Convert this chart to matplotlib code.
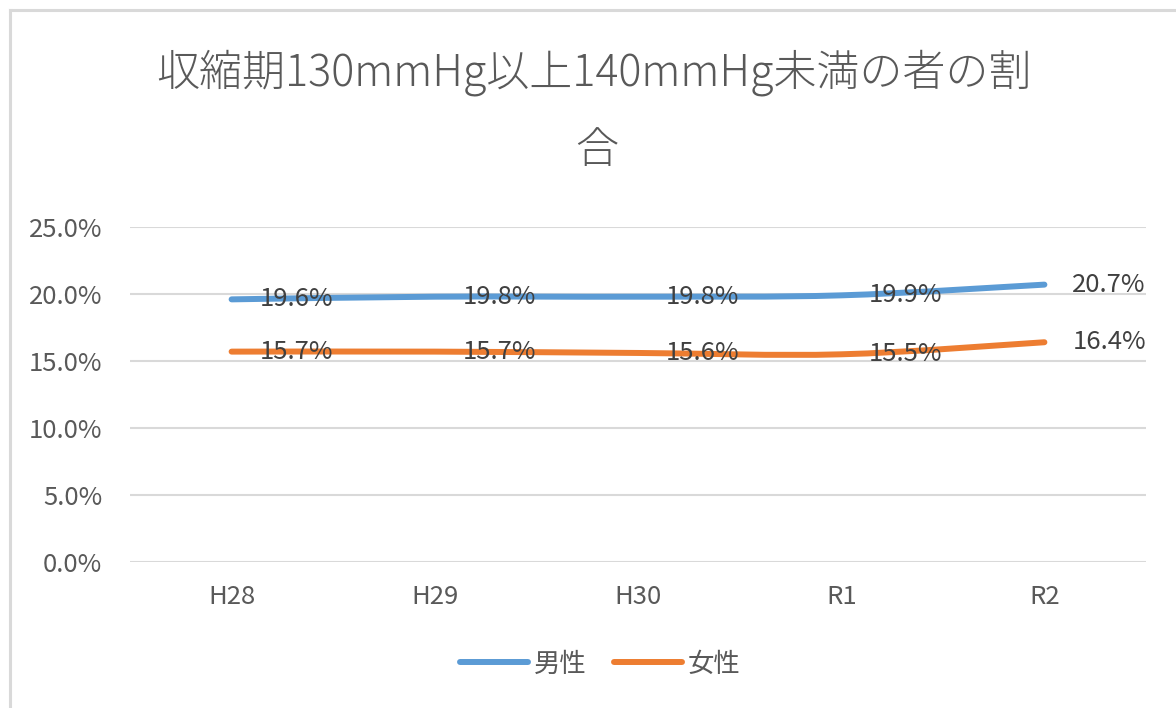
import matplotlib
matplotlib.use("Agg")
import matplotlib.pyplot as plt
import numpy as np
from matplotlib.path import Path
from matplotlib.patches import PathPatch
from matplotlib.lines import Line2D

plt.rcParams['font.family'] = ['Noto Sans CJK JP', 'DejaVu Sans']

categories = ['H28', 'H29', 'H30', 'R1', 'R2']
male = [19.6, 19.8, 19.8, 19.9, 20.7]
female = [15.7, 15.7, 15.6, 15.5, 16.4]
series_names = ['男性', '女性']
yticks = [0, 5, 10, 15, 20, 25]
title_line1 = '収縮期130mmHg以上140mmHg未満の者の割'
title_line2 = '合'

BLUE = '#5B9BD5'
ORANGE = '#ED7D31'
GRID = '#D9D9D9'
TXT = '#595959'
LBL = '#404040'

W, H = 1176, 708
fig = plt.figure(figsize=(W/100, H/100), dpi=100)
ax = fig.add_axes([130/W, 1-562/H, (1146-130)/W, (562-227)/H])

x = np.arange(len(categories))
ax.set_xlim(-0.5, len(categories)-0.5)
ax.set_ylim(0, 25)
ax.set_yticks(yticks)
ax.set_yticklabels([f'{v:.1f}%' for v in yticks])
ax.set_xticks(x)
ax.set_xticklabels(categories)
ax.tick_params(axis='both', length=0, colors=TXT, labelsize=18.5)
ax.tick_params(axis='y', pad=20)
ax.tick_params(axis='x', pad=16)
for s in ax.spines.values():
    s.set_visible(False)
ax.grid(axis='y', color=GRID, linewidth=1.5)
ax.set_axisbelow(True)


def smooth_path(xs, ys):
    pts = np.column_stack([xs, ys]).astype(float)
    n = len(pts)
    verts = [pts[0]]
    codes = [Path.MOVETO]
    for i in range(n-1):
        p0 = pts[i-1] if i > 0 else pts[i]
        p1 = pts[i]
        p2 = pts[i+1]
        p3 = pts[i+2] if i+2 < n else pts[i+1]
        c1 = p1 + (p2 - p0) / 6.0
        c2 = p2 - (p3 - p1) / 6.0
        verts += [c1, c2, p2]
        codes += [Path.CURVE4]*3
    return Path(verts, codes)

for vals, col in [(male, BLUE), (female, ORANGE)]:
    patch = PathPatch(smooth_path(x, vals), facecolor='none', edgecolor=col,
                      linewidth=4.3, capstyle='round', joinstyle='round', zorder=3)
    ax.add_patch(patch)
    for xi, v in zip(x, vals):
        ax.annotate(f'{v:.1f}%', (xi, v), xytext=(28, 0), textcoords='offset pixels',
                    ha='left', va='center', fontsize=18.5, color=LBL, zorder=4)

fig.text(594/W, 1-73/H, title_line1, ha='center', va='center', fontsize=31,
         color=TXT, fontweight='light')
fig.text(597/W, 1-151/H, title_line2, ha='center', va='center', fontsize=31,
         color=TXT, fontweight='light')

handles = [Line2D([0], [0], color=BLUE, lw=4.3, solid_capstyle='round'),
           Line2D([0], [0], color=ORANGE, lw=4.3, solid_capstyle='round')]
leg = fig.legend(handles, series_names, loc='center', bbox_to_anchor=(600/W, 1-664/H),
                 ncol=2, frameon=False, fontsize=19, handlelength=2.6, handletextpad=0.2,
                 columnspacing=1.05, labelcolor=TXT)

# chart frame (left and top edges)
fig.add_artist(Line2D([10/W, 10/W], [0, 1-10/H], color=GRID, lw=2.2, transform=fig.transFigure))
fig.add_artist(Line2D([10/W, 1], [1-10/H, 1-10/H], color=GRID, lw=2.2, transform=fig.transFigure))

fig.savefig('out.png', dpi=100)
